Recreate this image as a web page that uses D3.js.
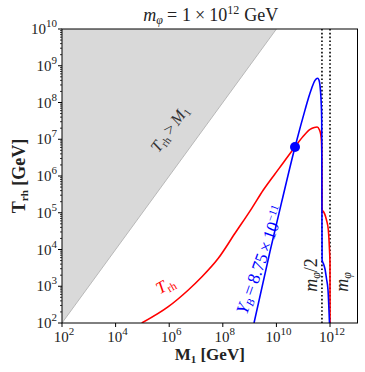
<!DOCTYPE html>
<html><head><meta charset="utf-8">
<script src="https://cdn.jsdelivr.net/npm/d3@7"></script>
<style>body{margin:0;background:#fff}svg{display:block}text{font-family:"Liberation Serif","DejaVu Serif",serif}</style>
</head><body><svg id="c" width="365" height="372"></svg>
<script>
// Data (M1 in GeV, Trh in GeV)
const xTicks = [1e2, 1e4, 1e6, 1e8, 1e10, 1e12];
const xTickExp = ["2","4","6","8","10","12"];
const yTicks = [1e2,1e3,1e4,1e5,1e6,1e7,1e8,1e9,1e10];
const yTickExp = ["2","3","4","5","6","7","8","9","10"];
const trhM1 = [9.42e4, 9.25e5, 5.16e6, 1.63e7, 6.79e7, 2.85e8, 1.2e9, 3.24e9, 1.26e10, 4.9e10, 1.0e11, 1.8e11, 2.6e11, 3.3e11, 4.0e11, 4.47e11, 4.79e11, 4.95e11, 5.05e11, 5.13e11, 5.37e11, 6.3e11, 7.4e11, 8.65e11, 9.55e11, 9.98e11, 1.0e12];
const trhVal = [1e2, 2.78e2, 7.91e2, 1.78e3, 5.75e3, 2.76e4, 1.32e5, 4.16e5, 1.61e6, 6.17e6, 1.2e7, 1.86e7, 2.1e7, 2.15e7, 1.82e7, 1.41e7, 8.9e6, 3.2e6, 1.3e5, 1.14e5, 1.12e5, 9.3e4, 6.3e4, 3.4e4, 1.0e4, 4.3e3, 1e2];
const ybM1 = [1.46e9, 5.77e9, 1.58e10, 4.94e10, 7.9e10, 1.17e11, 1.58e11, 2.07e11, 2.75e11, 3.47e11, 3.98e11, 4.37e11, 4.68e11, 4.9e11, 4.96e11, 5.01e11, 5.07e11, 5.75e11, 6.46e11, 7.4e11, 8.4e11, 9.55e11];
const ybVal = [1e2, 8.9e3, 2.0e5, 6.17e6, 2.24e7, 6.3e7, 1.35e8, 2.45e8, 4.0e8, 4.57e8, 3.8e8, 2.24e8, 1.0e8, 3.2e7, 1.0e6, 3.2e4, 5.1e3, 4.0e3, 3.0e3, 1.6e3, 8e2, 1e2];
const point = {m1: 4.94e10, trh: 6.15e6};
const mphi = 1e12;

const svg = d3.select("#c");
const L = 62, R = 357.5, T = 29, B = 323;
const x = d3.scaleLog().domain([1e2, 1.06e13]).range([L, R]);
const y = d3.scaleLog().domain([1e2, 1e10]).range([B, T]);

svg.append("defs").append("clipPath").attr("id","clip")
  .append("rect").attr("x",L).attr("y",T).attr("width",R-L).attr("height",B-T);
const g = svg.append("g").attr("clip-path","url(#clip)");

// Trh > M1 region
g.append("path")
  .attr("d", d3.line()([[x(1e2),y(1e2)],[x(1e10),y(1e10)],[x(1e2),y(1e10)]]) + "Z")
  .attr("fill","#d9d9d9").attr("stroke","none");
g.append("path")
  .attr("d", d3.line()([[x(1e2),y(1e2)],[x(1e10),y(1e10)]]))
  .attr("stroke","#b8b8b8").attr("stroke-width",1).attr("fill","none");

// vertical dotted lines
[mphi/2, mphi].forEach(v => {
  g.append("line").attr("x1",x(v)).attr("x2",x(v)).attr("y1",T).attr("y2",B)
   .attr("stroke","#000").attr("stroke-width",1.6).attr("stroke-dasharray","1.6,2.2");
});

const line = d3.line().curve(d3.curveMonotoneX);
g.append("path").attr("d", line(trhM1.map((m,i)=>[x(m), y(trhVal[i])])))
  .attr("fill","none").attr("stroke","#ff0000").attr("stroke-width",1.6);
g.append("path").attr("d", line(ybM1.map((m,i)=>[x(m), y(ybVal[i])])))
  .attr("fill","none").attr("stroke","#0000ff").attr("stroke-width",1.6);

svg.append("circle").attr("cx",x(point.m1)).attr("cy",y(point.trh)).attr("r",5).attr("fill","#0000ff");

// frame
svg.append("rect").attr("x",L).attr("y",T).attr("width",R-L).attr("height",B-T)
  .attr("fill","none").attr("stroke","#000").attr("stroke-width",1);

// x ticks
xTicks.forEach((v,i) => {
  svg.append("line").attr("x1",x(v)).attr("x2",x(v)).attr("y1",B).attr("y2",B+4).attr("stroke","#000");
  const t = svg.append("text").attr("x",x(v)+2).attr("y",B+19).attr("text-anchor","middle").attr("font-size",15).attr("fill","#222");
  t.append("tspan").text("10");
  t.append("tspan").attr("dy",-7).attr("font-size",11).text(xTickExp[i]);
});
// y ticks
yTicks.forEach((v,i) => {
  svg.append("line").attr("x1",L-4).attr("x2",L).attr("y1",y(v)).attr("y2",y(v)).attr("stroke","#000");
  const t = svg.append("text").attr("x",L-5).attr("y",y(v)+5).attr("text-anchor","end").attr("font-size",15).attr("fill","#222");
  t.append("tspan").text("10");
  t.append("tspan").attr("dy",-7).attr("font-size",11).text(yTickExp[i]);
  if (i < yTicks.length-1) {
    for (let k=2;k<=9;k++) {
      const yy = y(v*k);
      svg.append("line").attr("x1",L-2).attr("x2",L).attr("y1",yy).attr("y2",yy).attr("stroke","#000").attr("stroke-width",0.8);
    }
  }
});

// title
const tt = svg.append("text").attr("x",(L+R)/2+1).attr("y",21).attr("text-anchor","middle").attr("font-size",18).attr("fill","#222");
tt.append("tspan").attr("font-style","italic").text("m");
tt.append("tspan").attr("font-style","italic").attr("font-size",12).attr("dy",3).text("φ");
tt.append("tspan").attr("dy",-3).attr("dx",4).text("=");
tt.append("tspan").attr("dx",5).text("1");
tt.append("tspan").attr("dx",4).text("×");
tt.append("tspan").attr("dx",4).text("10");
tt.append("tspan").attr("font-size",12).attr("dy",-7).text("12");
tt.append("tspan").attr("dy",7).attr("dx",5).text("GeV");

// axis labels
const xl = svg.append("text").attr("x",(L+R)/2).attr("y",360).attr("text-anchor","middle").attr("font-size",17).attr("font-weight","bold").attr("fill","#222");
xl.append("tspan").text("M");
xl.append("tspan").attr("font-size",11).attr("dy",3).text("1");
xl.append("tspan").attr("dy",-3).text(" [GeV]");

const yl = svg.append("text").attr("transform",`translate(25,${(T+B)/2}) rotate(-90)`).attr("text-anchor","middle").attr("font-size",18).attr("font-weight","bold").attr("fill","#222");
yl.append("tspan").text("T");
yl.append("tspan").attr("font-size",11).attr("dy",3).text("rh");
yl.append("tspan").attr("dy",-3).text(" [GeV]");

// annotations
const a1 = svg.append("text").attr("transform","translate(174,132) rotate(-54)").attr("text-anchor","middle").attr("font-size",16.5).attr("fill","#333");
a1.append("tspan").attr("font-style","italic").text("T");
a1.append("tspan").attr("font-size",11).attr("dy",3).text("rh");
a1.append("tspan").attr("dy",-3).attr("dx",3).text(">");
a1.append("tspan").attr("dx",3).attr("font-style","italic").text("M");
a1.append("tspan").attr("font-size",11).attr("dy",3).text("1");

const a2 = svg.append("text").attr("transform","translate(168,290) rotate(-29)").attr("text-anchor","middle").attr("font-size",17).attr("fill","#ff0000");
a2.append("tspan").attr("font-style","italic").text("T");
a2.append("tspan").attr("font-size",11).attr("dy",3).text("rh");

const a3 = svg.append("text").attr("transform","translate(266,262) rotate(-70)").attr("text-anchor","middle").attr("font-size",17.5).attr("fill","#0000ff");
a3.append("tspan").attr("font-style","italic").text("Y");
a3.append("tspan").attr("font-style","italic").attr("font-size",11).attr("dy",3).text("B");
a3.append("tspan").attr("dy",-3).attr("dx",3).text("=");
a3.append("tspan").attr("dx",3).text("8.75");
a3.append("tspan").attr("dx",3).text("×");
a3.append("tspan").attr("dx",3).text("10");
a3.append("tspan").attr("font-size",11).attr("dy",-7).text("−11");

const a4 = svg.append("text").attr("transform","translate(317,275) rotate(-90)").attr("text-anchor","middle").attr("font-size",18).attr("fill","#222");
a4.append("tspan").attr("font-style","italic").text("m");
a4.append("tspan").attr("font-style","italic").attr("font-size",12).attr("dy",3).text("φ");
a4.append("tspan").attr("dy",-3).text("/2");

const a5 = svg.append("text").attr("transform","translate(348,282) rotate(-90)").attr("text-anchor","middle").attr("font-size",18).attr("fill","#222");
a5.append("tspan").attr("font-style","italic").text("m");
a5.append("tspan").attr("font-style","italic").attr("font-size",12).attr("dy",3).text("φ");
</script></body></html>
